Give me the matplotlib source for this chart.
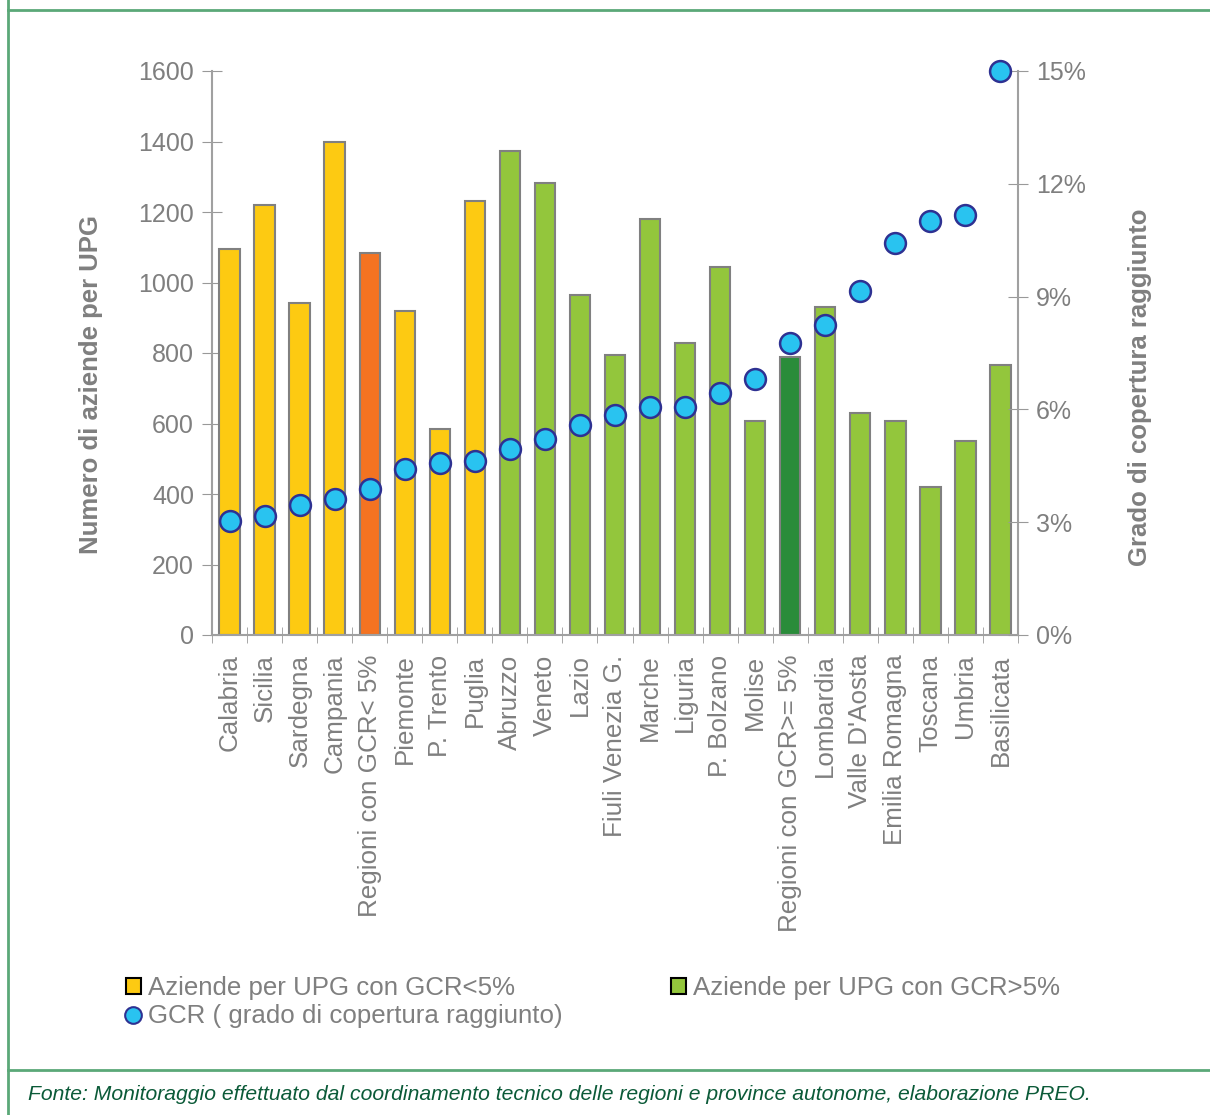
import numpy as np
import matplotlib
matplotlib.use('Agg')
import matplotlib.pyplot as plt
from matplotlib.lines import Line2D
from matplotlib.patches import Patch

plt.rcParams['font.family'] = ['Liberation Sans', 'DejaVu Sans']

regions = ['Calabria', 'Sicilia', 'Sardegna', 'Campania', 'Regioni con GCR< 5%',
           'Piemonte', 'P. Trento', 'Puglia', 'Abruzzo', 'Veneto', 'Lazio',
           'Fiuli Venezia G.', 'Marche', 'Liguria', 'P. Bolzano', 'Molise',
           'Regioni con GCR>= 5%', 'Lombardia', "Valle D'Aosta", 'Emilia Romagna',
           'Toscana', 'Umbria', 'Basilicata']
aziende = [1095, 1220, 942, 1400, 1084, 919, 584, 1231, 1373, 1282, 965,
           794, 1180, 828, 1044, 607, 789, 930, 630, 607, 420, 550, 766]
gcr = [3.03, 3.17, 3.46, 3.62, 3.88, 4.41, 4.57, 4.63, 4.95, 5.21, 5.59,
       5.85, 6.06, 6.06, 6.44, 6.81, 7.77, 8.24, 9.15, 10.43, 11.01, 11.17, 15.0]
groups = ['low'] * 4 + ['low_tot'] + ['low'] * 3 + ['high'] * 8 + ['high_tot'] + ['high'] * 6

colors = {'low': '#FDCA12', 'low_tot': '#F47321', 'high': '#93C63C', 'high_tot': '#2A8C3A'}
gray = '#7F7F7F'
fs = 18

fig = plt.figure(figsize=(12.1, 11.15), dpi=100)
ax = fig.add_axes([212/1210, 1 - 635/1115, 806/1210, 564/1115])

x = np.arange(len(regions))
ax.bar(x, aziende, width=0.58, color=[colors[g] for g in groups],
       edgecolor='#808080', linewidth=1.5, zorder=2)
ax.set_xlim(-0.5, len(regions) - 0.5)
ax.set_ylim(0, 1600)
ax.set_yticks(range(0, 1601, 200))
ax.set_xticks(x)
ax.set_xticklabels(regions, rotation=90, fontsize=18.7, color=gray)
ax.set_xticks(np.arange(-0.5, len(regions)), minor=True)
ax.tick_params(axis='x', which='major', length=0, pad=14)
ax.tick_params(axis='x', which='minor', length=12, direction='inout', color='#999999')
ax.tick_params(axis='y', labelsize=fs, labelcolor=gray, length=14,
               direction='inout', color='#999999', pad=6)
for s in ['top', 'right']:
    ax.spines[s].set_visible(False)
for s in ['left', 'bottom']:
    ax.spines[s].set_color('#A0A0A0')
    ax.spines[s].set_linewidth(1.5)
ax.set_ylabel('Numero di aziende per UPG', fontsize=18.5, fontweight='bold', color=gray)
ax.yaxis.set_label_coords(-0.135, 0.445)

ax2 = ax.twinx()
ax2.plot(x, gcr, linestyle='none', marker='o', markersize=15,
         markerfacecolor='#29C3F0', markeredgecolor='#2E3192',
         markeredgewidth=1.8, zorder=5, clip_on=False)
ax2.set_ylim(0, 15)
ax2.set_yticks([0, 3, 6, 9, 12, 15])
ax2.set_yticklabels(['0%', '3%', '6%', '9%', '12%', '15%'])
ax2.tick_params(axis='y', labelsize=fs, labelcolor=gray, length=14,
                direction='inout', color='#999999', pad=6)
for s in ['top', 'left', 'bottom']:
    ax2.spines[s].set_visible(False)
ax2.spines['right'].set_color('#A0A0A0')
ax2.spines['right'].set_linewidth(1.5)
ax2.set_ylabel('Grado di copertura raggiunto', fontsize=18.5, fontweight='bold', color=gray)
ax2.yaxis.set_label_coords(1.137, 0.44)

handles = [Patch(facecolor=colors['low'], edgecolor='black', linewidth=1.5),
           Line2D([], [], linestyle='none', marker='o', markersize=12,
                  markerfacecolor='#29C3F0', markeredgecolor='#2E3192', markeredgewidth=1.5),
           Patch(facecolor=colors['high'], edgecolor='black', linewidth=1.5)]
labels = ['Aziende per UPG con GCR<5%', 'GCR ( grado di copertura raggiunto)',
          'Aziende per UPG con GCR>5%']
leg = fig.legend(handles, labels, ncol=2, frameon=False, fontsize=18.6,
                 loc='upper left', bbox_to_anchor=(116/1210, 1 - 966/1115),
                 handlelength=0.55, handleheight=0.55, handletextpad=0.3,
                 labelspacing=0.15, columnspacing=4.2, borderaxespad=0)
for t in leg.get_texts():
    t.set_color(gray)

fcol = '#5BA878'
fig.add_artist(Line2D([8/1210, 8/1210], [0, 1], color=fcol, linewidth=2))
fig.add_artist(Line2D([8/1210, 1], [1 - 10/1115, 1 - 10/1115], color=fcol, linewidth=2))
fig.add_artist(Line2D([8/1210, 1], [1 - 1070/1115, 1 - 1070/1115], color=fcol, linewidth=2))
fig.text(28/1210, 1 - 1095/1115,
         'Fonte: Monitoraggio effettuato dal coordinamento tecnico delle regioni e province autonome, elaborazione PREO.',
         fontsize=15.2, style='italic', color='#0B5A38', va='center', ha='left')

fig.savefig('out.png', dpi=100)
